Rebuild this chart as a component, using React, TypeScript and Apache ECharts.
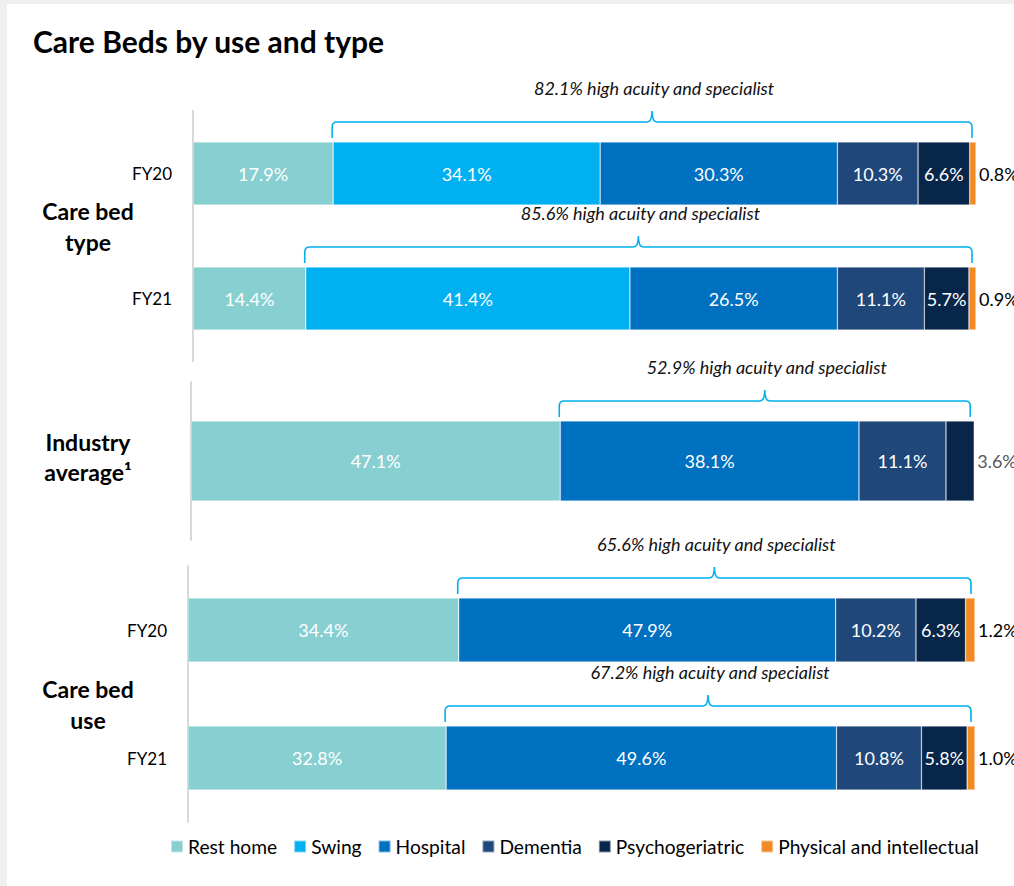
import React, { useEffect, useRef } from "react";
import * as echarts from "echarts";

const seriesNames = ["Rest home", "Swing", "Hospital", "Dementia", "Psychogeriatric", "Physical and intellectual"];
const colors = ["#88CFD1", "#00B0F0", "#0070C0", "#1F477A", "#08264A", "#F28A24"];

const typeCats = ["FY20", "FY21"];
const typeRest = [17.9, 14.4];
const typeSwing = [34.1, 41.4];
const typeHospital = [30.3, 26.5];
const typeDementia = [10.3, 11.1];
const typePsycho = [6.6, 5.7];
const typePhysical = [0.8, 0.9];
const typeHighAcuity = [82.1, 85.6];

const industryCats = ["Industry average"];
const industryRest = [47.1];
const industryHospital = [38.1];
const industryDementia = [11.1];
const industryPsycho = [3.6];
const industryHighAcuity = [52.9];

const useCats = ["FY20", "FY21"];
const useRest = [34.4, 32.8];
const useHospital = [47.9, 49.6];
const useDementia = [10.2, 10.8];
const usePsycho = [6.3, 5.8];
const usePhysical = [1.2, 1.0];
const useHighAcuity = [65.6, 67.2];

const FONT = "Lato";

type Section = {
  cats: string[];
  values: (number[] | null)[];
  highAcuity: number[];
  barWidth: number;
  grid: { left: number; top: number; width: number; height: number };
  showCatLabels: boolean;
  outsideIdx: number[];
  outsideColor: string;
};

const sections: Section[] = [
  {
    cats: typeCats,
    values: [typeRest, typeSwing, typeHospital, typeDementia, typePsycho, typePhysical],
    highAcuity: typeHighAcuity,
    barWidth: 63,
    grid: { left: 193, top: 111, width: 783, height: 250 },
    showCatLabels: true,
    outsideIdx: [5],
    outsideColor: "#000000",
  },
  {
    cats: industryCats,
    values: [industryRest, null, industryHospital, industryDementia, industryPsycho, null],
    highAcuity: industryHighAcuity,
    barWidth: 80,
    grid: { left: 191, top: 382, width: 784, height: 158 },
    showCatLabels: false,
    outsideIdx: [4],
    outsideColor: "#595959",
  },
  {
    cats: useCats,
    values: [useRest, null, useHospital, useDementia, usePsycho, usePhysical],
    highAcuity: useHighAcuity,
    barWidth: 64,
    grid: { left: 188, top: 566, width: 787, height: 256 },
    showCatLabels: true,
    outsideIdx: [5],
    outsideColor: "#000000",
  },
];

function buildOption() {
  const grids: any[] = [];
  const xAxes: any[] = [];
  const yAxes: any[] = [];
  const series: any[] = [];

  sections.forEach((s, gi) => {
    grids.push({ ...s.grid, containLabel: false });
    xAxes.push({ type: "value", gridIndex: gi, min: 0, max: 100, show: false });
    yAxes.push({
      type: "category",
      gridIndex: gi,
      data: s.cats,
      inverse: true,
      axisLine: { show: true, lineStyle: { color: "#d9d9d9", width: 2 } },
      axisTick: { show: false },
      splitLine: { show: false },
      axisLabel: {
        show: s.showCatLabels,
        color: "#000",
        fontSize: 17,
        fontFamily: FONT,
        margin: 21,
      },
    });

    s.values.forEach((vals, si) => {
      if (!vals) return;
      const outside = s.outsideIdx.includes(si);
      series.push({
        type: "bar",
        name: seriesNames[si],
        xAxisIndex: gi,
        yAxisIndex: gi,
        stack: "stack" + gi,
        barWidth: s.barWidth,
        data: vals,
        itemStyle: { color: colors[si], borderColor: "rgba(255,255,255,0.5)", borderWidth: 0.6 },
        label: {
          show: true,
          position: outside ? "right" : "inside",
          distance: 3,
          color: outside ? s.outsideColor : "#ffffff",
          fontSize: 18,
          fontFamily: FONT,
          formatter: (p: any) => Number(p.value).toFixed(1) + "%",
        },
        emphasis: { disabled: true },
      });
    });

    const braceData = s.cats.map((_, ci) => {
      const start = (s.values[0] as number[])[ci];
      let total = 0;
      s.values.forEach((v) => {
        if (v) total += v[ci];
      });
      return [ci, start, total, s.highAcuity[ci]];
    });
    const bw = s.barWidth;
    series.push({
      type: "custom",
      xAxisIndex: gi,
      yAxisIndex: gi,
      silent: true,
      clip: false,
      z: 10,
      encode: { x: [1, 2], y: 0 },
      data: braceData,
      renderItem: (params: any, api: any) => {
        const ci = api.value(0);
        const p0 = api.coord([api.value(1), ci]);
        const p1 = api.coord([api.value(2), ci]);
        const barTop = p0[1] - bw / 2;
        const x0 = p0[0] - 1;
        const x1 = p1[0] - 4;
        const xm = (x0 + x1) / 2;
        const yEnd = barTop - 4;
        const yLine = barTop - 20;
        const yPeak = barTop - 31;
        const r = 5;
        const d =
          `M ${x0} ${yEnd} L ${x0} ${yLine + r} Q ${x0} ${yLine} ${x0 + r} ${yLine} ` +
          `L ${xm - 5} ${yLine} Q ${xm} ${yLine} ${xm} ${yPeak} Q ${xm} ${yLine} ${xm + 5} ${yLine} ` +
          `L ${x1 - r} ${yLine} Q ${x1} ${yLine} ${x1} ${yLine + r} L ${x1} ${yEnd}`;
        return {
          type: "group",
          children: [
            {
              type: "path",
              shape: { pathData: d },
              style: { stroke: "#00B0F0", fill: "none", lineWidth: 1.6 },
            },
            {
              type: "text",
              style: {
                text: Number(api.value(3)).toFixed(1) + "% high acuity and specialist",
                x: xm + 2,
                y: barTop - 54,
                align: "center",
                verticalAlign: "middle",
                font: `italic 18px ${FONT}`,
                fill: "#111",
              },
            },
          ],
        };
      },
    });
  });

  return {
    animation: false,
    backgroundColor: "#ffffff",
    grid: grids,
    xAxis: xAxes,
    yAxis: yAxes,
    series,
    legend: {
      data: seriesNames,
      left: 165,
      top: 832,
      icon: "rect",
      itemWidth: 12,
      itemHeight: 12,
      itemGap: 16,
      textStyle: { color: "#000", fontSize: 19.2, fontFamily: FONT },
      selectedMode: false,
    },
    graphic: [
      { type: "rect", left: 0, top: 0, shape: { width: 7, height: 886 }, style: { fill: "#efefef" }, silent: true },
      { type: "rect", left: 0, top: 0, shape: { width: 1014, height: 4 }, style: { fill: "#efefef" }, silent: true },
      {
        type: "text",
        x: 33,
        y: 41,
        style: {
          text: "Care Beds by use and type",
          font: `bold 30px ${FONT}`,
          fill: "#000",
          verticalAlign: "middle",
        },
      },
      {
        type: "text",
        x: 88,
        y: 226,
        style: {
          text: "Care bed\ntype",
          font: `bold 23px ${FONT}`,
          fill: "#000",
          align: "center",
          verticalAlign: "middle",
          lineHeight: 31,
        },
      },
      {
        type: "text",
        x: 88,
        y: 457,
        style: {
          text: "Industry\naverage¹",
          font: `bold 23px ${FONT}`,
          fill: "#000",
          align: "center",
          verticalAlign: "middle",
          lineHeight: 30,
        },
      },
      {
        type: "text",
        x: 88,
        y: 704,
        style: {
          text: "Care bed\nuse",
          font: `bold 23px ${FONT}`,
          fill: "#000",
          align: "center",
          verticalAlign: "middle",
          lineHeight: 31,
        },
      },
    ],
  };
}

export default function App() {
  const ref = useRef<HTMLDivElement>(null);
  useEffect(() => {
    document.body.style.margin = "0";
    if (!ref.current) return;
    const chart = echarts.init(ref.current, undefined, { renderer: "svg" });
    chart.setOption(buildOption() as any);
    return () => chart.dispose();
  }, []);
  return <div ref={ref} style={{ width: 1014, height: 886 }} />;
}
